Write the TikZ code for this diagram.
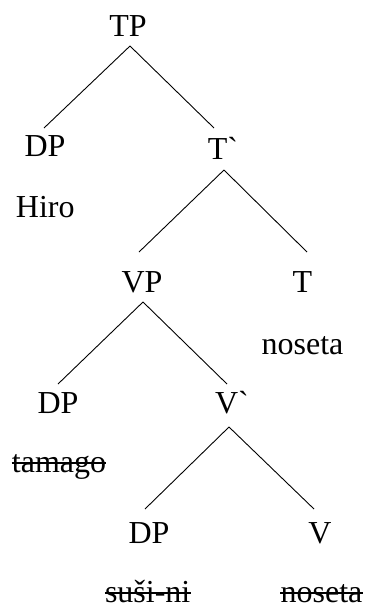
\documentclass[tikz,border=0pt]{standalone}
\usepackage{fontspec}
\newfontfamily\treefont{Liberation Serif}
\newcommand{\grv}{\char96\relax}
\begin{document}
\begin{tikzpicture}[x=1pt,y=-1pt,
  lbl/.style={anchor=base,inner sep=0pt,font=\treefont\fontsize{32}{38}\selectfont},
  branch/.style={line width=0.9pt},
  strikeline/.style={line width=1.3pt}]
\useasboundingbox (0,0) rectangle (366,608);
% nodes (center x, baseline y)
\node[lbl] (TP)  at (128,36)  {TP};
\node[lbl] (DP1) at (45,156)  {DP};
\node[lbl] (T1)  at (223,159) {T\grv};
\node[lbl] (Hiro) at (45.3,217) {Hiro};
\node[lbl] (VP)  at (142,292) {VP};
\node[lbl] (T)   at (302.5,292) {T};
\node[lbl] (nos1) at (302.5,354) {noseta};
\node[lbl] (DP2) at (58,413)  {DP};
\node[lbl] (V1)  at (232,413) {V\grv};
\node[lbl] (tam) at (59,472)  {tamago};
\node[lbl] (DP3) at (149,543) {DP};
\node[lbl] (V)   at (320,543) {V};
\node[lbl] (susi) at (147.7,602) {suši-ni};
\node[lbl] (nos2) at (321.5,602) {noseta};
% branches
\draw[branch] ([shift={(2pt,-10pt)}]TP.base) -- ([shift={(-1pt,28pt)}]DP1.base);
\draw[branch] ([shift={(2pt,-10pt)}]TP.base) -- ([shift={(-9pt,31pt)}]T1.base);
\draw[branch] ([shift={(1pt,-11pt)}]T1.base) -- ([shift={(-3pt,40pt)}]VP.base);
\draw[branch] ([shift={(1pt,-11pt)}]T1.base) -- ([shift={(4.5pt,40pt)}]T.base);
\draw[branch] ([shift={(1pt,-10pt)}]VP.base) -- ([shift={(0pt,29pt)}]DP2.base);
\draw[branch] ([shift={(1pt,-10pt)}]VP.base) -- ([shift={(-5pt,29pt)}]V1.base);
\draw[branch] ([shift={(-3pt,-14pt)}]V1.base) -- ([shift={(-4pt,34pt)}]DP3.base);
\draw[branch] ([shift={(-3pt,-14pt)}]V1.base) -- ([shift={(-6pt,34pt)}]V.base);
% strike-throughs
\draw[strikeline] ([yshift=9pt]tam.base west) -- ([yshift=9pt]tam.base east);
\draw[strikeline] ([yshift=9pt]susi.base west) -- ([yshift=9pt]susi.base east);
\draw[strikeline] ([yshift=9pt]nos2.base west) -- ([yshift=9pt]nos2.base east);
\end{tikzpicture}
\end{document}
